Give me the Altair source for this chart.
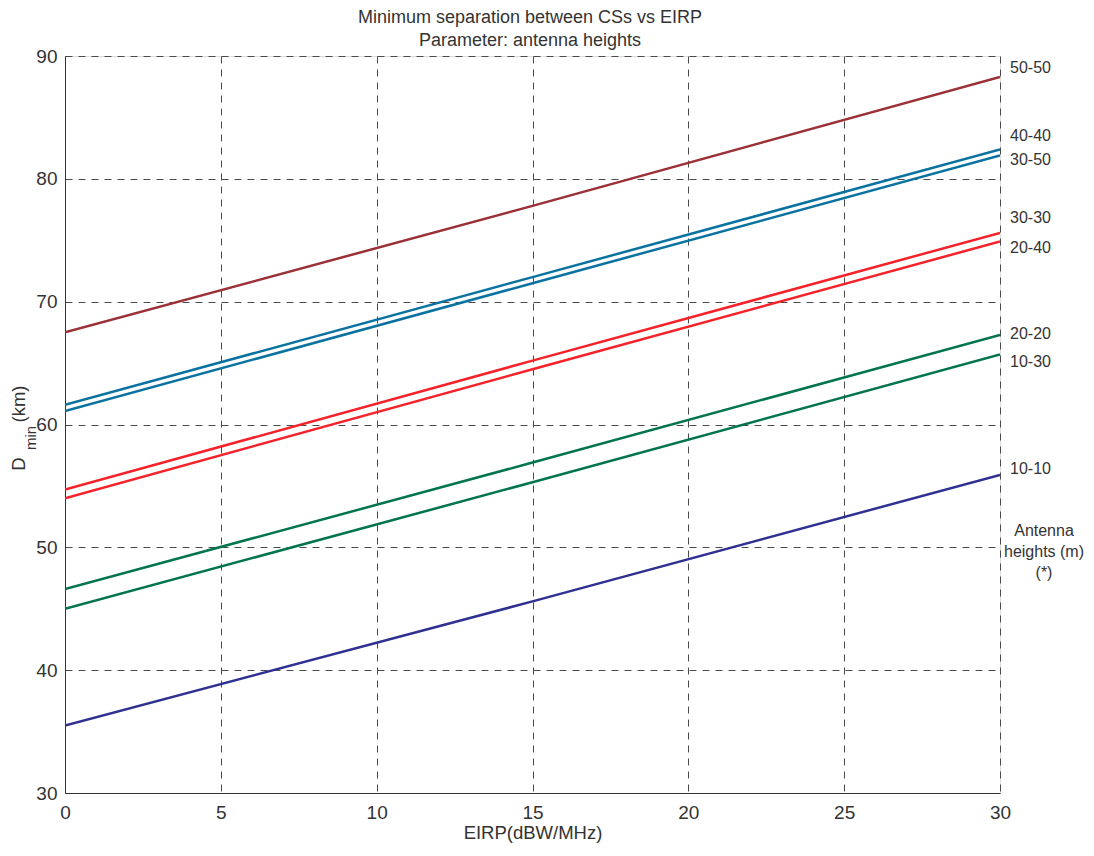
import altair as alt
import pandas as pd

# EIRP values where the curves were read (dBW/MHz)
eirp = [0, 15, 30]

# D_min (km) for each antenna-height pair
series_names = ["50-50", "40-40", "30-50", "30-30", "20-40", "20-20", "10-30", "10-10"]
d_50_50 = [67.5, 77.8, 88.3]
d_40_40 = [61.6, 72.0, 82.4]
d_30_50 = [61.1, 71.5, 81.9]
d_30_30 = [54.7, 65.2, 75.6]
d_20_40 = [54.0, 64.5, 74.9]
d_20_20 = [46.6, 56.9, 67.3]
d_10_30 = [45.0, 55.3, 65.7]
d_10_10 = [35.5, 45.6, 55.9]
series_values = [d_50_50, d_40_40, d_30_50, d_30_30, d_20_40, d_20_20, d_10_30, d_10_10]

series_colors = ["#9B3036", "#0A72A0", "#0A72A0", "#F5222A", "#F5222A",
                 "#00744C", "#00744C", "#2E3192"]

# right-hand annotation labels (text, y in km)
label_texts = series_names
label_y = [89.0, 83.5, 81.5, 76.8, 74.4, 67.4, 65.1, 56.4]
note_lines = ["Antenna", "heights (m)", "(*)"]
note_y = 51.35

title_lines = ["Minimum separation between CSs vs EIRP", "Parameter: antenna heights"]

x_ticks = [0, 5, 10, 15, 20, 25, 30]
y_ticks = [30, 40, 50, 60, 70, 80, 90]

rows = []
for name, vals in zip(series_names, series_values):
    for x, v in zip(eirp, vals):
        rows.append({"series": name, "eirp": x, "dmin": v})
df = pd.DataFrame(rows)
labels_df = pd.DataFrame({"text": label_texts, "y": label_y, "x": [30] * len(label_texts)})
note_df = pd.DataFrame({"x": [30], "y": [note_y]})

FONT = "Liberation Sans"
TXT = "#333333"
GRID = "#4a4a4a"

x_enc = alt.X("eirp:Q", scale=alt.Scale(domain=[0, 30], nice=False),
              axis=alt.Axis(title="EIRP(dBW/MHz)", values=x_ticks, grid=True,
                            gridDash=[7, 6], gridColor=GRID, gridWidth=1,
                            ticks=False, labelPadding=10, labelFontSize=19,
                            labelColor=TXT, labelFlush=False, titleFontSize=18.5,
                            titleFontWeight="normal", titleColor=TXT, titlePadding=1,
                            domainColor=TXT, labelFont=FONT, titleFont=FONT))
y_enc = alt.Y("dmin:Q", scale=alt.Scale(domain=[30, 90], nice=False),
              axis=alt.Axis(title=None, values=y_ticks, grid=True,
                            gridDash=[7, 6], gridColor=GRID, gridWidth=1,
                            ticks=False, labelPadding=8, labelFontSize=19,
                            labelColor=TXT, labelFlush=False,
                            domainColor=TXT, labelFont=FONT))

lines = alt.Chart(df).mark_line(strokeWidth=2.5, clip=True).encode(
    x=x_enc,
    y=y_enc,
    color=alt.Color("series:N", scale=alt.Scale(domain=series_names, range=series_colors),
                    legend=None),
    detail="series:N",
)

right_labels = alt.Chart(labels_df).mark_text(
    align="left", baseline="middle", dx=10, fontSize=16, font=FONT, color=TXT
).encode(x="x:Q", y="y:Q", text="text:N")

note = alt.Chart(note_df).mark_text(
    align="center", baseline="middle", dx=44, fontSize=16, font=FONT, color=TXT,
    lineHeight=21, text=note_lines
).encode(x="x:Q", y="y:Q")

one = pd.DataFrame({"k": [0]})
title1 = alt.Chart(one).mark_text(align="center", baseline="middle", fontSize=18,
                                  font=FONT, color=TXT, text=title_lines[0]).encode(
    x=alt.value(465), y=alt.value(-38))
title2 = alt.Chart(one).mark_text(align="center", baseline="middle", fontSize=18,
                                  font=FONT, color=TXT, text=title_lines[1]).encode(
    x=alt.value(465), y=alt.value(-15))
yt_d = alt.Chart(one).mark_text(angle=270, align="center", baseline="middle",
                                fontSize=18.5, font=FONT, color=TXT, text="D").encode(
    x=alt.value(-46), y=alt.value(408))
yt_min = alt.Chart(one).mark_text(angle=270, align="center", baseline="middle",
                                  fontSize=15, font=FONT, color=TXT, text="min").encode(
    x=alt.value(-34), y=alt.value(382))
yt_km = alt.Chart(one).mark_text(angle=270, align="center", baseline="middle",
                                 fontSize=18.5, font=FONT, color=TXT, text="(km)").encode(
    x=alt.value(-46), y=alt.value(348))

chart = alt.layer(lines, right_labels, note, title1, title2, yt_d, yt_min, yt_km).properties(
    width=935,
    height=737,
    autosize=alt.AutoSizeParams(type="none"),
    padding={"left": 57, "top": 48, "right": 86, "bottom": 51},
).configure_view(stroke=TXT, strokeWidth=1).configure(background="white")

chart.save("out.html", embed_options={"renderer": "svg", "actions": False})
